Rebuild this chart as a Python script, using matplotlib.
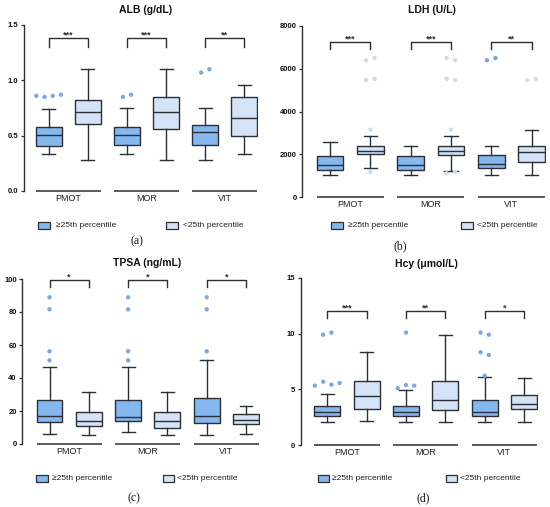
import numpy as np
import matplotlib
matplotlib.use("Agg")
import matplotlib.pyplot as plt
from matplotlib.patches import Rectangle

plt.rcParams['font.family'] = ['Liberation Sans', 'DejaVu Sans']

W, H = 550, 507

groups = ["PMOT", "MOR", "VIT"]
legend_labels = ["\u226525th percentile", "<25th percentile"]

# box stats per group: whislo, q1, med, q3, whishi
alb_hi = [[0.33, 0.41, 0.51, 0.575, 0.74], [0.33, 0.415, 0.51, 0.575, 0.75], [0.28, 0.42, 0.53, 0.593, 0.75]]
alb_lo = [[0.28, 0.605, 0.715, 0.82, 1.10], [0.28, 0.557, 0.717, 0.846, 1.10], [0.337, 0.494, 0.66, 0.846, 0.958]]
alb_hi_out = [[[0.86, 0.85, 0.86, 0.87]], [[0.85, 0.87]], [[1.07, 1.10]]]
alb_lo_out = [[], [], []]
alb_sig = ["***", "***", "**"]

ldh_hi = [[1014, 1279, 1482, 1932, 2588], [1014, 1279, 1482, 1903, 2401], [1014, 1341, 1560, 1965, 2401]]
ldh_lo = [[1341, 1996, 2168, 2386, 2838], [1232, 1980, 2168, 2386, 2838], [1030, 1622, 2105, 2370, 3150]]
ldh_hi_out = [[], [], [[6400, 6500]]]
ldh_lo_out = [[[6400, 6500], [5470, 5520], [3150], [1170]],
              [[6500, 6410], [5520, 5470], [3150], [1110, 1180]],
              [[5470, 5520]]]
ldh_sig = ["***", "***", "**"]

tpsa_hi = [[6.3, 13.3, 16.8, 26.7, 46.5], [7.1, 13.9, 16.4, 26.7, 46.5], [5.7, 12.7, 16.8, 27.7, 50.7]]
tpsa_lo = [[5.7, 10.7, 13.9, 19.2, 31.5], [5.7, 9.7, 13.9, 19.6, 31.5], [6.3, 11.9, 14.7, 18.4, 22.8]]
tpsa_hi_out = [[[88.9], [81.6], [56.2], [50.7]], [[88.9], [81.6], [56.2], [50.7]], [[88.9], [81.6], [56.2]]]
tpsa_lo_out = [[], [], []]
tpsa_sig = ["*", "*", "*"]

hcy_hi = [[2.03, 2.63, 2.99, 3.53, 4.61], [2.03, 2.63, 2.99, 3.53, 4.97], [2.03, 2.63, 2.93, 4.01, 6.11]]
hcy_lo = [[2.12, 3.23, 4.43, 5.78, 8.33], [2.03, 3.11, 4.01, 5.78, 9.91], [2.03, 3.2, 3.71, 4.52, 6.02]]
hcy_hi_out = [[[9.91, 10.09], [5.33, 5.69, 5.42, 5.57]], [[10.1], [5.09, 5.39, 5.33]],
              [[10.1, 9.91], [8.33, 8.09], [6.23]]]
hcy_lo_out = [[], [], []]
hcy_sig = ["***", "**", "*"]

dark = "#2b2f36"
c_hi = "#86b7ee"
c_lo = "#d4e3f6"
c_hi_pt = "#7ea9de"
c_lo_pt = "#cddcef"

fig = plt.figure(figsize=(W / 100, H / 100), dpi=100)


def make_stats(rows):
    return [dict(whislo=r[0], q1=r[1], med=r[2], q3=r[3], whishi=r[4], fliers=[]) for r in rows]


def panel(px_left, unit, x0, px_bottom, px_top, ymax, yticks, ylabels,
          hi, lo, hi_out, lo_out, sig, bracket):
    width = (5.35 - x0) * unit
    ax = fig.add_axes([px_left / W, 1 - px_bottom / H, width / W, (px_bottom - px_top) / H])
    pos_hi = np.arange(3) * 2.0
    pos_lo = pos_hi + 1
    for stats, pos, col in [(hi, pos_hi, c_hi), (lo, pos_lo, c_lo)]:
        ax.bxp(make_stats(stats), positions=pos, widths=0.66, patch_artist=True, showfliers=False,
               boxprops=dict(facecolor=col, edgecolor=dark, linewidth=1.0),
               medianprops=dict(color=dark, linewidth=1.0),
               whiskerprops=dict(color=dark, linewidth=1.0),
               capprops=dict(color=dark, linewidth=1.0))
    for out, pos, col in [(hi_out, pos_hi, c_hi_pt), (lo_out, pos_lo, c_lo_pt)]:
        for p, clusters in zip(pos, out):
            for cl in clusters:
                n = len(cl)
                xs = p + (np.arange(n) - (n - 1) / 2) * 0.21
                ax.scatter(xs, cl, s=10, color=col, edgecolors='none', zorder=3, clip_on=False)
    btop, bbot = bracket
    for i in range(3):
        a, b = pos_hi[i], pos_lo[i]
        ax.plot([a, a, b, b], [bbot, btop, btop, bbot], color=dark, lw=1.0, clip_on=False)
        ax.annotate(sig[i], ((a + b) / 2, btop), xytext=(0, 0.4), textcoords='offset points',
                    ha='center', va='baseline', fontsize=6.5, fontweight='bold', color=dark,
                    annotation_clip=False)
        ax.plot([a - 0.33, b + 0.33], [0, 0], color=dark, lw=1.1, clip_on=False,
                solid_capstyle='butt')
    ax.set_xlim(x0, 5.35)
    ax.set_ylim(0, ymax)
    ax.set_yticks(yticks)
    ax.set_yticklabels(ylabels, fontsize=5.5, fontweight='bold')
    ax.set_xticks(pos_hi + 0.5)
    ax.set_xticklabels(groups, fontsize=6.5)
    ax.tick_params(axis='x', length=0, pad=2.5, colors='#222222')
    ax.tick_params(axis='y', length=2.2, width=0.9, pad=1.5, color=dark, labelcolor='#111111')
    for s in ['top', 'right', 'bottom']:
        ax.spines[s].set_visible(False)
    ax.spines['left'].set_linewidth(1.0)
    ax.spines['left'].set_color(dark)
    ax.patch.set_visible(False)
    return ax


panel(23.5, 39.15, -0.642, 191, 25, 1.5, [0, 0.5, 1.0, 1.5], ["0.0", "0.5", "1.0", "1.5"],
      alb_hi, alb_lo, alb_hi_out, alb_lo_out, alb_sig, (1.38, 1.30))
panel(302, 40.3, -0.695, 197, 26, 8000, [0, 2000, 4000, 6000, 8000], ["0", "2000", "4000", "6000", "8000"],
      ldh_hi, ldh_lo, ldh_hi_out, ldh_lo_out, ldh_sig, (7250, 6925))
panel(22, 39.3, -0.70, 444, 279, 100, [0, 20, 40, 60, 80, 100], ["0", "20", "40", "60", "80", "100"],
      tpsa_hi, tpsa_lo, tpsa_hi_out, tpsa_lo_out, tpsa_sig, (99.4, 95.4))
panel(300.5, 39.35, -0.68, 445, 278, 15, [0, 5, 10, 15], ["0", "5", "10", "15"],
      hcy_hi, hcy_lo, hcy_hi_out, hcy_lo_out, hcy_sig, (12.07, 11.41))

# titles
titles = ["ALB (g/dL)", "LDH (U/L)", "TPSA (ng/mL)", "Hcy (\u03bcmol/L)"]
title_xy = [(146, 10), (432, 10), (147, 263), (426, 264)]
for t, (x, y) in zip(titles, title_xy):
    fig.text(x / W, 1 - y / H, t, ha='center', va='center', fontsize=7.5, fontweight='bold', color='#111111')

# legends
leg_xy = [(38, 56, 166, 182.5, 225.5), (331, 348, 461, 477, 225.5),
          (36, 51.5, 162.5, 177, 478), (317.5, 332.5, 445.5, 460, 478.5)]
for bx1, tx1, bx2, tx2, y in leg_xy:
    for bx, tx, col, lab in [(bx1, tx1, c_hi, legend_labels[0]), (bx2, tx2, c_lo, legend_labels[1])]:
        fig.add_artist(Rectangle((bx / W, 1 - (y + 3.5) / H), 11.5 / W, 7 / H, transform=fig.transFigure,
                                 facecolor=col, edgecolor=dark, lw=0.9))
        fig.text(tx / W, 1 - y / H, lab, ha='left', va='center', fontsize=6, color='#222222')

# panel letters
letters = ["(a)", "(b)", "(c)", "(d)"]
letter_xy = [(137, 241), (400, 246), (134, 498), (423, 498)]
for t, (x, y) in zip(letters, letter_xy):
    fig.text(x / W, 1 - y / H, t, ha='center', va='center', fontsize=8.5,
             family=['Liberation Serif', 'DejaVu Serif'], color='#111111')

fig.savefig("out.png", dpi=100)
